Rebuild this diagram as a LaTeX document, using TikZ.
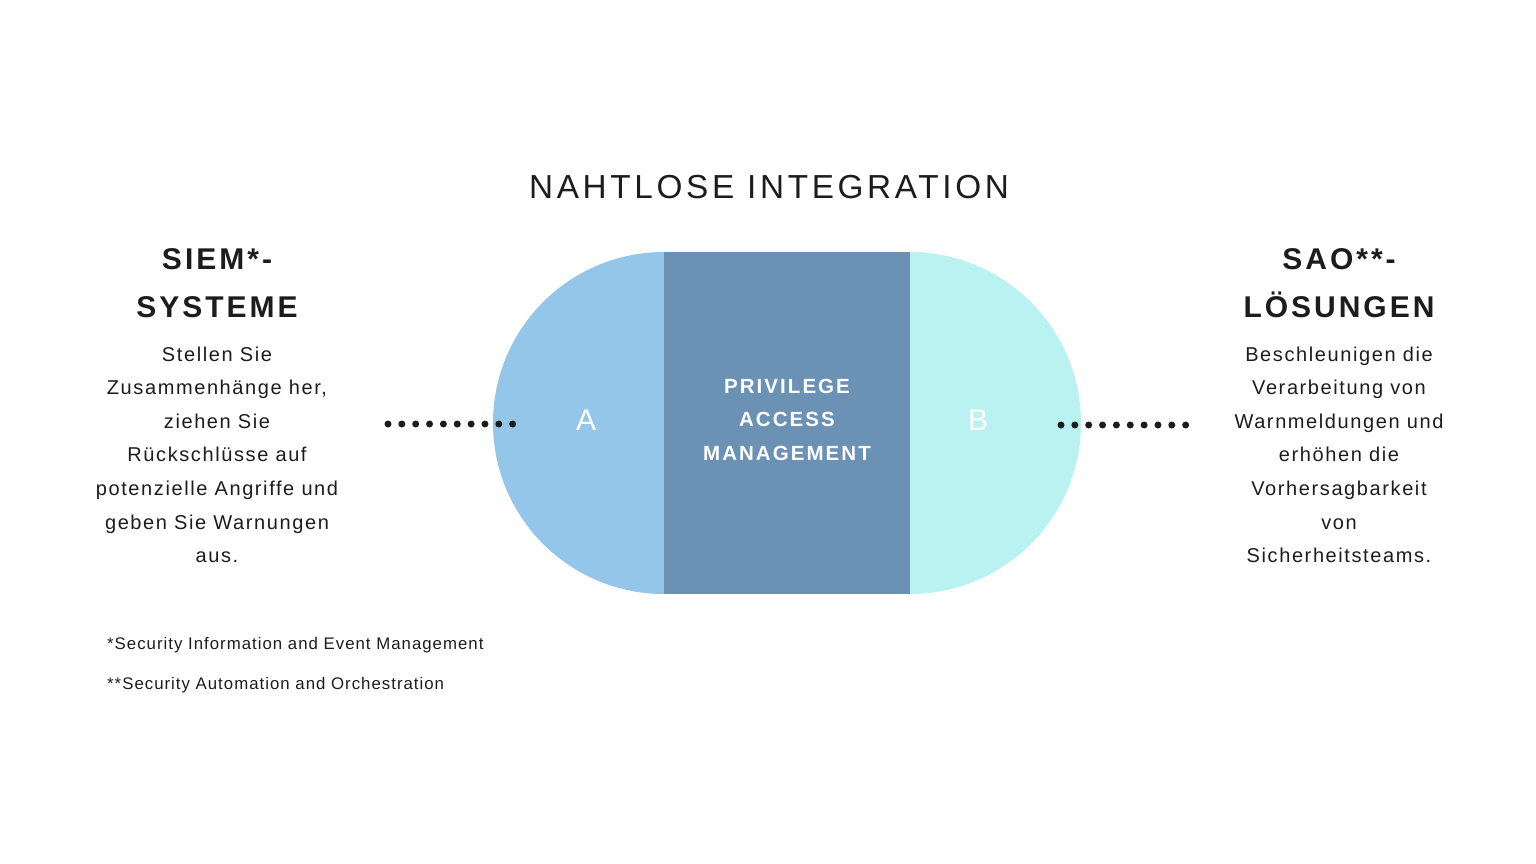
\documentclass[tikz,border=0pt]{standalone}
\usepackage{fontspec}
\setmainfont{Liberation Sans}
\newfontfamily\titlefont[LetterSpace=11]{Liberation Sans}
\newfontfamily\headfont[LetterSpace=10]{Liberation Sans}
\newfontfamily\bodyfont[LetterSpace=8]{Liberation Sans}
\newfontfamily\notefont[LetterSpace=6]{Liberation Sans}
\definecolor{txt}{HTML}{1C1C1C}
\definecolor{leftc}{HTML}{93C6E8}
\definecolor{midc}{HTML}{6B91B5}
\definecolor{rightc}{HTML}{B9F2F0}
\tikzset{
  titletext/.style={inner sep=0pt, anchor=base, text=txt, font=\titlefont\fontsize{33.3}{40}\selectfont},
  headtext/.style={inner sep=0pt, anchor=base, align=center, text=txt, font=\headfont\bfseries\fontsize{30}{48}\selectfont},
  bodytext/.style={inner sep=0pt, anchor=base, align=center, text=txt, font=\bodyfont\fontsize{20}{33.6}\selectfont},
  midtext/.style={inner sep=0pt, anchor=base, align=center, text=white, font=\headfont\bfseries\fontsize{20.5}{33.6}\selectfont},
  lettertext/.style={inner sep=0pt, anchor=base, text=white, font=\fontsize{30}{36}\selectfont},
  notetext/.style={inner sep=0pt, anchor=base west, text=txt, font=\notefont\fontsize{16.8}{20}\selectfont},
  dotline/.style={draw=txt, line width=7pt, line cap=round, dash pattern=on 0pt off 13.85pt}
}
\begin{document}
\begin{tikzpicture}[x=1pt,y=1pt]
\useasboundingbox (0,0) rectangle (1536,-864);
% central shape
\fill[leftc] (664,-252) arc[start angle=90,end angle=270,radius=171pt] -- cycle;
\fill[midc] (664,-252) rectangle (910,-594);
\fill[rightc] (910,-252) arc[start angle=90,end angle=-90,radius=171pt] -- cycle;
\node[lettertext] (A) at (586,-430) {A};
\node[lettertext] (B) at (978,-430) {B};
% base anchor of a multi-line node = baseline of its last line
\node[midtext] (pam) at (787,-460.2) {PRIVILEGE\\ACCESS\\MANAGEMENT};
% title
\node[titletext] (title) at (769,-198) {NAHTLOSE INTEGRATION};
% left column
\node[headtext] (siem) at (217,-317) {SIEM*-\\SYSTEME};
\node[bodytext] (siembody) at (217,-562.6) {Stellen Sie\\Zusammenhänge her,\\ziehen Sie\\Rückschlüsse auf\\potenzielle Angriffe und\\geben Sie Warnungen\\aus.};
% right column
\node[headtext] (sao) at (1339,-317) {SAO**-\\LÖSUNGEN};
\node[bodytext] (saobody) at (1339,-562.6) {Beschleunigen die\\Verarbeitung von\\Warnmeldungen und\\erhöhen die\\Vorhersagbarkeit\\von\\Sicherheitsteams.};
% footnotes
\node[notetext] (note1) at (107,-649) {*Security Information and Event Management};
\node[notetext] (note2) at (107,-689) {**Security Automation and Orchestration};
% dotted connectors
\coordinate (dl1) at (388,-424);
\coordinate (dl2) at (513.5,-424);
\coordinate (dr1) at (1061,-425);
\coordinate (dr2) at (1186.5,-425);
\draw[dotline] (dl1) -- (dl2);
\draw[dotline] (dr1) -- (dr2);
\end{tikzpicture}
\end{document}
